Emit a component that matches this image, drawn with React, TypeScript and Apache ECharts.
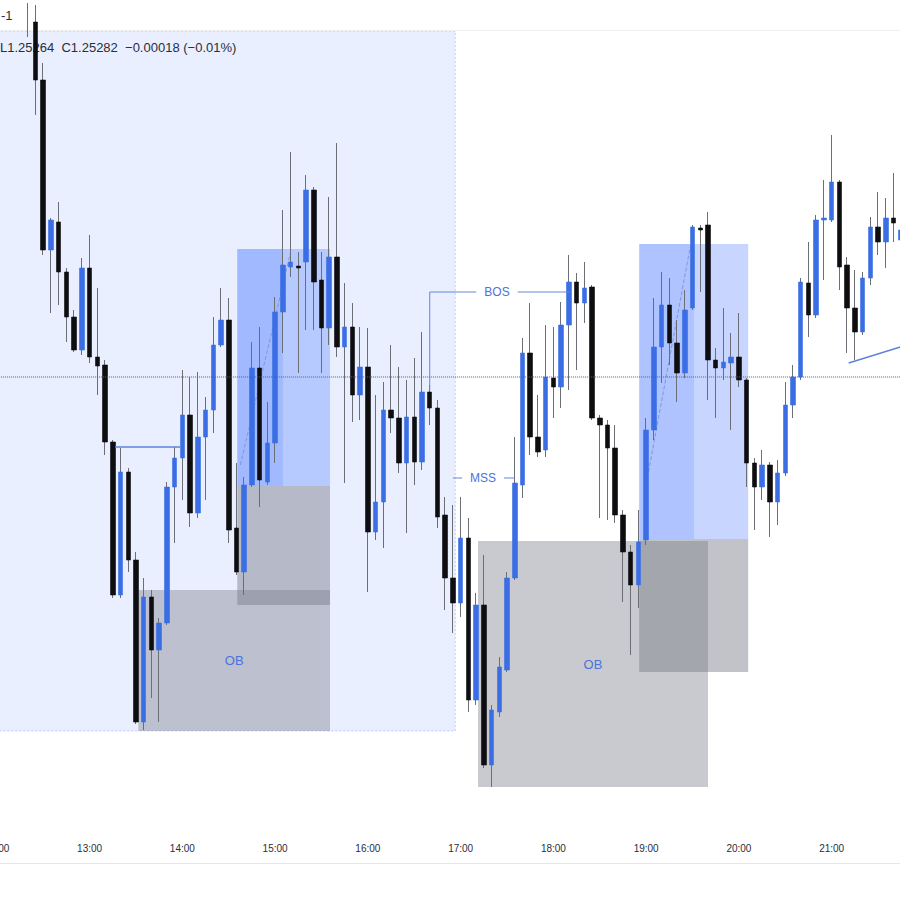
import React, { useEffect, useRef } from "react";
import * as echarts from "echarts";

// ---- time categories: 5-minute bars from 12:00 ----
const firstBar = "12:00";
const barCount = 118;
const hourLabels = ["12:00", "13:00", "14:00", "15:00", "16:00", "17:00", "18:00", "19:00", "20:00", "21:00"];
const categories: string[] = [];
{
  const [h0, m0] = firstBar.split(":").map(Number);
  for (let k = 0; k < barCount; k++) {
    const m = h0 * 60 + m0 + k * 5;
    categories.push(String(Math.floor(m / 60)).padStart(2, "0") + ":" + String(m % 60).padStart(2, "0"));
  }
}

// ---- OHLC (bars 12:00 .. 21:45) ----
const open = [
  1.25659, 1.25654, 1.25644, 1.25651, 1.25649,
  1.25637, 1.25579, 1.25409, 1.25437, 1.25387, 1.25342, 1.25309, 1.25391, 1.25302, 1.25294,
  1.25217, 1.25064, 1.25187, 1.25099, 1.24937, 1.25062, 1.25009, 1.25036, 1.25172, 1.25201,
  1.25244, 1.25146, 1.25222, 1.25249, 1.25314, 1.25339, 1.25131, 1.25087, 1.25174, 1.25291,
  1.25177, 1.25216, 1.25347, 1.25392, 1.25393, 1.25397, 1.25469, 1.25379, 1.25331, 1.25402,
  1.25312, 1.25332, 1.25264, 1.25292, 1.25127, 1.25157, 1.25249, 1.25241, 1.25196, 1.25242,
  1.25197, 1.25267, 1.25251, 1.25144, 1.25081, 1.25056, 1.25121, 1.24959, 1.25054, 1.24894,
  1.24947, 1.24989, 1.25081, 1.25174, 1.25306, 1.25222, 1.25209, 1.25281, 1.25272, 1.25334,
  1.25377, 1.25356, 1.25372, 1.25241, 1.25234, 1.25211, 1.25144, 1.25107, 1.25074, 1.25119,
  1.25229, 1.25312, 1.25354, 1.25316, 1.25286, 1.25351, 1.25431, 1.25434, 1.25299, 1.25291,
  1.25296, 1.25302, 1.25279, 1.25196, 1.25172, 1.25194, 1.25157, 1.25186, 1.25254, 1.25282,
  1.25376, 1.25344, 1.25439, 1.25439, 1.25477, 1.25394, 1.25351, 1.25327, 1.25381, 1.25432,
  1.25417, 1.25441, 1.25419,
];
const high = [
  1.25669, 1.25664, 1.25659, 1.25657, 1.25656,
  1.25654, 1.25596, 1.25441, 1.25457, 1.25391, 1.25349, 1.25401, 1.25424, 1.25371, 1.25299,
  1.25219, 1.25211, 1.25191, 1.25107, 1.25081, 1.25069, 1.25041, 1.25177, 1.25212, 1.25289,
  1.25282, 1.25287, 1.25262, 1.25342, 1.25371, 1.25361, 1.25196, 1.25182, 1.25317, 1.25332,
  1.25257, 1.25362, 1.25449, 1.25507, 1.25407, 1.25484, 1.25472, 1.25407, 1.25462, 1.25516,
  1.25376, 1.25356, 1.25332, 1.25331, 1.25264, 1.25277, 1.25314, 1.25292, 1.25279, 1.25301,
  1.25327, 1.25274, 1.25259, 1.25162, 1.25154, 1.25162, 1.25141, 1.25066, 1.25104, 1.24954,
  1.25002, 1.25087, 1.25222, 1.25321, 1.25356, 1.25264, 1.25334, 1.25332, 1.25357, 1.25404,
  1.25386, 1.25397, 1.25374, 1.25244, 1.25239, 1.25234, 1.25149, 1.25114, 1.25149, 1.25241,
  1.25361, 1.25387, 1.25381, 1.25339, 1.25369, 1.25434, 1.25434, 1.25447, 1.25311, 1.25351,
  1.25326, 1.25346, 1.25281, 1.25201, 1.25209, 1.25197, 1.25199, 1.25277, 1.25294, 1.25381,
  1.25417, 1.25444, 1.25479, 1.25524, 1.25479, 1.25402, 1.25389, 1.25387, 1.25442, 1.25467,
  1.25461, 1.25486, 1.25444,
];
const low = [
  1.25647, 1.25639, 1.25634, 1.25633, 1.25622,
  1.25544, 1.25404, 1.25346, 1.25354, 1.25317, 1.25307, 1.25304, 1.25296, 1.25264, 1.25204,
  1.25061, 1.25061, 1.25087, 1.24935, 1.24929, 1.24961, 1.24937, 1.25034, 1.25116, 1.25159,
  1.25132, 1.25141, 1.25159, 1.25226, 1.25312, 1.25116, 1.25084, 1.25064, 1.25172, 1.25152,
  1.25174, 1.25196, 1.25306, 1.25382, 1.25286, 1.25329, 1.25329, 1.25286, 1.25314, 1.25302,
  1.25176, 1.25237, 1.25239, 1.25067, 1.25119, 1.25111, 1.25226, 1.25186, 1.25126, 1.25174,
  1.25189, 1.25234, 1.25131, 1.25049, 1.25026, 1.25042, 1.24947, 1.24954, 1.24891, 1.24872,
  1.24942, 1.24987, 1.25079, 1.25161, 1.25204, 1.25202, 1.25202, 1.25241, 1.25251, 1.25269,
  1.25289, 1.25336, 1.25239, 1.25141, 1.25139, 1.25136, 1.25057, 1.25004, 1.25051, 1.25114,
  1.25219, 1.25276, 1.25294, 1.25257, 1.25281, 1.25349, 1.25367, 1.25259, 1.25241, 1.25279,
  1.25229, 1.25272, 1.25172, 1.25129, 1.25159, 1.25122, 1.25134, 1.25183, 1.25241, 1.25279,
  1.25322, 1.25341, 1.25379, 1.25437, 1.25369, 1.25306, 1.25299, 1.25324, 1.25374, 1.25404,
  1.25391, 1.25417, 1.25409,
];
const close = [
  1.25654, 1.25644, 1.25651, 1.25641, 1.25637,
  1.25579, 1.25409, 1.25439, 1.25387, 1.25342, 1.25309, 1.25391, 1.25302, 1.25293, 1.25217,
  1.25064, 1.25187, 1.25099, 1.24937, 1.25062, 1.25009, 1.25036, 1.25172, 1.25201, 1.25244,
  1.25146, 1.25222, 1.25249, 1.25314, 1.25339, 1.25129, 1.25087, 1.25174, 1.25291, 1.25179,
  1.25216, 1.25347, 1.25394, 1.25397, 1.25391, 1.25469, 1.25377, 1.25331, 1.25402, 1.25312,
  1.25332, 1.25264, 1.25292, 1.25127, 1.25157, 1.25249, 1.25241, 1.25196, 1.25242, 1.25197,
  1.25267, 1.25251, 1.25142, 1.25081, 1.25056, 1.25121, 1.24959, 1.25054, 1.24894, 1.24949,
  1.24992, 1.25081, 1.25176, 1.25306, 1.25222, 1.25207, 1.25282, 1.25272, 1.25334, 1.25377,
  1.25356, 1.25371, 1.25241, 1.25234, 1.25211, 1.25144, 1.25107, 1.25074, 1.25117, 1.25229,
  1.25312, 1.25354, 1.25316, 1.25286, 1.25349, 1.25432, 1.25429, 1.25299, 1.25291, 1.25297,
  1.25302, 1.25279, 1.25196, 1.25172, 1.25194, 1.25157, 1.25186, 1.25254, 1.25282, 1.25377,
  1.25344, 1.25439, 1.25441, 1.25477, 1.25392, 1.25351, 1.25327, 1.25381, 1.25432, 1.25417,
  1.25441, 1.25436, 1.25429,
];

// ---- drawn zones (x in bar units counted from 12:25, y in price) ----
const zoneKinds = ["session", "ob", "grey", "blue", "blueCore", "ob", "grey", "blue", "blueCore"];
const zoneFrom = [-6, 13.3, 26.1, 26.1, 26.1, 57.25, 78.1, 78.1, 78.1];
const zoneTo = [54.3, 38.1, 38.1, 38.1, 32.0, 87.0, 92.2, 92.2, 85.2];
const zoneTop = [1.25628, 1.25069, 1.25173, 1.2541, 1.2541, 1.25118, 1.2512, 1.25415, 1.25415];
const zoneBottom = [1.24928, 1.24928, 1.25054, 1.25173, 1.25173, 1.24872, 1.24987, 1.2512, 1.2512];
const zoneLabels = ["", "OB", "", "", "", "OB", "", "", ""];

// ---- structure annotations ----
const mssLevel1 = [[10.3, 1.25212], [18.7, 1.25212]];
const bosPath = [[51.0, 1.25269], [51.0, 1.25367], [69.1, 1.25367]];
const mssPath = [[54.0, 1.25181], [62.0, 1.25181]];
const impulse1 = [[26.5, 1.25194], [33.0, 1.25407]];
const impulse2 = [[79.3, 1.25187], [84.7, 1.25412]];
const trendLine = [[105.2, 1.25296], [112.3, 1.25313]];
const tagText = ["BOS", "MSS"];
const tagX = [59.7, 57.9];
const tagY = [1.25367, 1.25181];
const lastPrice = 1.25282;
const legendText = "L1.25264  C1.25282  \u22120.00018 (\u22120.01%)";

const FONT = '"Liberation Sans", Arial, sans-serif';
const UP = "#3b6ee4";
const DOWN = "#0e0e10";
const WICK = "#6c6e76";
const TAG = "#4a73db";
const SHIFT = 50; // the chart canvas starts 50px left of the page

const zoneStyles: Record<string, any> = {
  session: { fill: "rgba(41,98,255,0.1)", stroke: "rgba(41,98,255,0.28)", lineWidth: 1, lineDash: [2, 2] },
  ob: { fill: "rgba(120,123,134,0.40)" },
  grey: { fill: "rgba(120,123,134,0.45)" },
  blue: { fill: "rgba(41,98,255,0.26)" },
  blueCore: { fill: "rgba(41,98,255,0.16)" },
};

function lineSeries(data: number[][], color: string, type: string, width: number, z: number) {
  return {
    type: "line",
    xAxisIndex: 1,
    yAxisIndex: 0,
    data,
    symbol: "none",
    silent: true,
    z,
    lineStyle: { color, width, type },
  };
}

export default function App() {
  const ref = useRef<HTMLDivElement>(null);
  useEffect(() => {
    document.body.style.margin = "0";
    document.body.style.overflow = "hidden";
    document.documentElement.style.overflow = "hidden";
    const chart = echarts.init(ref.current!, undefined, { renderer: "svg" });
    const wickData = open.map((o, k) => [o, close[k], low[k], high[k]]);
    const bodyData = open.map((o, k) => [o, close[k], Math.min(o, close[k]), Math.max(o, close[k])]);
    const option: any = {
      animation: false,
      backgroundColor: "#ffffff",
      grid: { left: SHIFT - 7, top: 31, width: 912.1, height: 801, containLabel: false, outerBoundsMode: "none" },
      xAxis: [
        {
          type: "category",
          data: categories,
          boundaryGap: true,
          axisLine: { show: false },
          axisTick: { show: false },
          splitLine: { show: false },
          axisLabel: {
            interval: (_i: number, v: string) => hourLabels.indexOf(v) >= 0,
            color: "#2a2e39",
            fontSize: 10,
            fontFamily: FONT,
            margin: 11,
          },
        },
        { type: "value", min: -5.5, max: 112.5, show: false },
      ],
      yAxis: { type: "value", min: 1.24827, max: 1.25628, show: false, scale: true },
      graphic: [
        { type: "text", z: 2, left: SHIFT + 1, top: 9, style: { text: "-1", fill: "#2a2e39", font: "13px " + FONT } },
        { type: "text", z: 2, left: SHIFT, top: 41, style: { text: legendText, fill: "#2a2e39", font: "13px " + FONT } },
        { type: "line", z: 2, shape: { x1: SHIFT, y1: 30.5, x2: SHIFT + 900, y2: 30.5 }, style: { stroke: "#eef0f4", lineWidth: 1 } },
        { type: "line", z: 2, shape: { x1: SHIFT, y1: 863.5, x2: SHIFT + 900, y2: 863.5 }, style: { stroke: "#e3e6ec", lineWidth: 1 } },
      ],
      series: [
        {
          type: "custom",
          name: "zones",
          xAxisIndex: 1,
          yAxisIndex: 0,
          z: 1,
          clip: true,
          silent: true,
          data: zoneFrom.map((f, k) => [f, zoneTo[k], zoneTop[k], zoneBottom[k]]),
          encode: { x: [0, 1], y: [2, 3] },
          renderItem: (params: any, api: any) => {
            const k = params.dataIndex;
            const p0 = api.coord([api.value(0), api.value(2)]);
            const p1 = api.coord([api.value(1), api.value(3)]);
            const children: any[] = [
              {
                type: "rect",
                shape: { x: p0[0], y: p0[1], width: p1[0] - p0[0], height: p1[1] - p0[1] },
                style: { ...zoneStyles[zoneKinds[k]] },
              },
            ];
            if (zoneLabels[k]) {
              children.push({
                type: "text",
                x: (p0[0] + p1[0]) / 2,
                y: (p0[1] + p1[1]) / 2,
                style: { text: zoneLabels[k], fill: TAG, font: "13px " + FONT, align: "center", verticalAlign: "middle" },
              });
            }
            return { type: "group", children };
          },
        },
        lineSeries(impulse1, "#8497d2", "dashed", 1, 2),
        lineSeries(impulse2, "#8497d2", "dashed", 1, 2),
        {
          type: "candlestick",
          name: "wicks",
          xAxisIndex: 0,
          yAxisIndex: 0,
          data: wickData,
          barWidth: 1,
          z: 3,
          silent: true,
          itemStyle: { color: WICK, color0: WICK, borderColor: WICK, borderColor0: WICK, borderWidth: 1 },
        },
        {
          type: "candlestick",
          name: "bodies",
          xAxisIndex: 0,
          yAxisIndex: 0,
          data: bodyData,
          barWidth: 5,
          z: 4,
          silent: true,
          itemStyle: { color: UP, color0: DOWN, borderColor: UP, borderColor0: DOWN, borderWidth: 0.6 },
        },
        lineSeries(mssLevel1, "#5f82d8", "solid", 1.5, 5),
        lineSeries(bosPath, "#6586d8", "solid", 1, 5),
        lineSeries(mssPath, "#6586d8", "solid", 1, 5),
        lineSeries(trendLine, "#5f82d8", "solid", 1.5, 5),
        lineSeries([[-6, lastPrice], [113, lastPrice]], "#5b5e66", "dotted", 1, 6),
        {
          type: "custom",
          name: "tags",
          xAxisIndex: 1,
          yAxisIndex: 0,
          z: 7,
          silent: true,
          data: tagX.map((x, k) => [x, tagY[k]]),
          encode: { x: 0, y: 1 },
          renderItem: (params: any, api: any) => {
            const p = api.coord([api.value(0), api.value(1)]);
            return {
              type: "text",
              x: p[0],
              y: p[1],
              style: {
                text: tagText[params.dataIndex],
                fill: TAG,
                font: "12px " + FONT,
                align: "center",
                verticalAlign: "middle",
                backgroundColor: "#ffffff",
                padding: [2, 8],
              },
            };
          },
        },
      ],
    };
    chart.setOption(option);
    return () => chart.dispose();
  }, []);
  return (
    <div
      ref={ref}
      style={{ position: "absolute", left: -SHIFT, top: 0, width: 900 + 2 * SHIFT, height: 900, background: "#fff" }}
    />
  );
}
